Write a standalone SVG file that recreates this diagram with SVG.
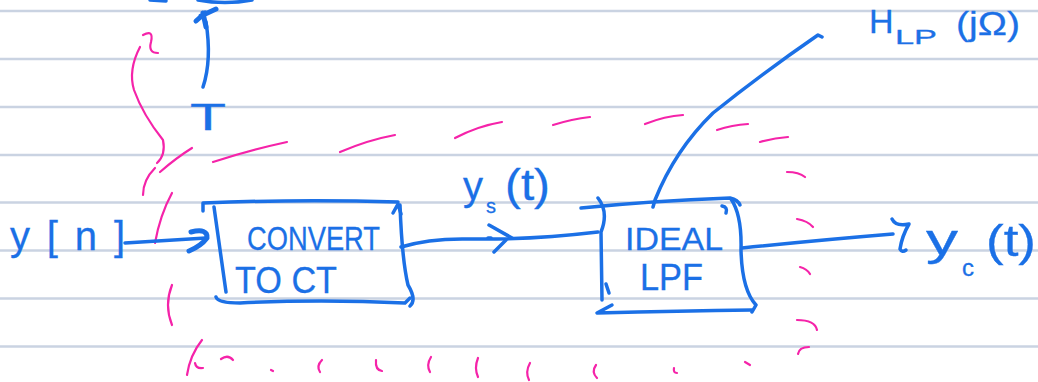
<svg xmlns="http://www.w3.org/2000/svg" width="1038" height="382" viewBox="0 0 1038 382">
  <style>
    .rule { stroke: #cad3e2; stroke-width: 2.5; }
    .ink { fill: none; stroke: #1b70e6; stroke-width: 3.5; stroke-linecap: round; stroke-linejoin: round; }
    .ink-thick { fill: none; stroke: #1b70e6; stroke-width: 5; stroke-linecap: round; stroke-linejoin: round; }
    .pen { fill: none; stroke: #f523a9; stroke-width: 2.2; stroke-linecap: round; stroke-linejoin: round; }
    .lbl { fill: #1b70e6; font-family: "Liberation Sans", "DejaVu Sans", sans-serif; stroke: #1b70e6; stroke-width: 0.3; }
  </style>

  <!-- ruled paper -->
  <rect width="1038" height="382" fill="#ffffff"/>
  <g id="paper-rules">
    <line class="rule" x1="0" y1="11" x2="1038" y2="11"/>
    <line class="rule" x1="0" y1="59" x2="1038" y2="59"/>
    <line class="rule" x1="0" y1="107" x2="1038" y2="107"/>
    <line class="rule" x1="0" y1="155" x2="1038" y2="155"/>
    <line class="rule" x1="0" y1="202.5" x2="1038" y2="202.5"/>
    <line class="rule" x1="0" y1="250.5" x2="1038" y2="250.5"/>
    <line class="rule" x1="0" y1="298.5" x2="1038" y2="298.5"/>
    <line class="rule" x1="0" y1="346.5" x2="1038" y2="346.5"/>
  </g>

  <!-- stroke from the previous line of notes -->
  <path class="ink" d="M198,0 Q225,5 252,0 M150,0 L166,1"/>

  <!-- dashed boundary around the system (pink pen) -->
  <g id="system-boundary">
    <path class="pen" d="M143,35 Q154,29 151,42 Q148,53 158,53"/>
    <path class="pen" stroke-width="1.6" d="M140,47 Q128,70 134,90 Q143,115 163,140 Q166,155 157,163"/>
    <path class="pen" d="M160,172 Q176,158 192,148"/>
    <path class="pen" d="M213,162 Q250,150 287,142"/>
    <path class="pen" d="M340,152 Q368,140 395,135"/>
    <path class="pen" d="M455,138 Q478,126 502,122"/>
    <path class="pen" d="M553,125 Q572,119 590,117"/>
    <path class="pen" d="M645,124 Q665,116 683,115"/>
    <path class="pen" d="M717,130 Q732,125 748,124"/>
    <path class="pen" d="M760,142 Q775,138 788,137"/>
    <path class="pen" d="M787,172 Q799,172 805,177"/>
    <path class="pen" d="M797,219 Q808,221 813,227"/>
    <path class="pen" d="M800,267 Q807,269 810,274"/>
    <path class="pen" d="M797,320 Q815,320 817,330"/>
    <path class="pen" d="M798,354 Q799,347 809,347"/>
    <path class="pen" d="M745,362 L750,365"/>
    <path class="pen" d="M674,368 Q673,373 677,373"/>
    <path class="pen" d="M596,365 Q591,372 597,378"/>
    <path class="pen" d="M530,363 Q525,372 529,380"/>
    <path class="pen" d="M478,358 Q474,368 478,377"/>
    <path class="pen" d="M431,357 Q426,365 430,372"/>
    <path class="pen" d="M376,360 Q375,370 382,371"/>
    <path class="pen" d="M322,360 Q316,366 320,372"/>
    <path class="pen" d="M271,370 L273,371"/>
    <path class="pen" d="M221,359 Q228,354 233,360"/>
    <path class="pen" d="M202,340 Q190,355 187,375 M195,363 Q196,369 203,368"/>
    <path class="pen" d="M172,285 Q164,305 172,325"/>
    <path class="pen" d="M172,193 Q160,215 155,243"/>
    <path class="pen" d="M155,168 Q143,180 143,195"/>
  </g>

  <!-- connectors -->
  <g id="connectors">
    <!-- x[n] into the converter -->
    <path class="ink" d="M125,243 Q160,241 206,238"/>
    <path class="ink-thick" d="M191,232 Q208,228 207,238 Q201,246 189,251"/>
    <!-- converter to LPF, carrying y_s(t) -->
    <path class="ink" d="M401,247 Q430,238 470,239 Q530,240 598,232"/>
    <path class="ink" d="M489,225 L512,238 M506,240 L494,252 M488,238 L491,238"/>
    <!-- LPF output -->
    <path class="ink" d="M742,248 Q820,240 893,234"/>
    <path class="ink" d="M892,219 Q896,227 909,224 Q902,236 900,249 Q902,253 906,250"/>
    <!-- pointer from H_LP label to the LPF -->
    <path class="ink" stroke-width="2.8" d="M653,207 L655,200 Q675,150 713,113 Q760,75 818,35 L822,37"/>
    <!-- sampling period arrow -->
    <path class="ink" d="M203,87 Q212,60 206,22"/>
    <path class="ink-thick" d="M196,21 L205,13 M201,16 L216,9 M203,13 L206,27"/>
  </g>

  <!-- input -->
  <g id="input">
    <text class="lbl" x="10" y="250" font-size="40" textLength="115" lengthAdjust="spacing">y[n]</text>
  </g>

  <!-- sampling period -->
  <g id="period">
    <text class="lbl" x="190" y="130" font-size="36" textLength="36" lengthAdjust="spacingAndGlyphs">T</text>
  </g>

  <!-- D/C converter block -->
  <g id="convert-to-ct">
    <path class="ink" d="M203,211 L203,203 Q300,199 398,202"/>
    <path class="ink" stroke-width="2.5" d="M393,213 L398,204 L401,214"/>
    <path class="ink" d="M214,207 Q220,250 226,292"/>
    <path class="ink" d="M400,205 Q402,260 408,285 Q417,300 410,306"/>
    <path class="ink" d="M216,297 Q218,303 240,303 Q320,299 405,303 L410,298"/>
    <text class="lbl" x="247" y="250" font-size="34" textLength="133" lengthAdjust="spacingAndGlyphs">CONVERT</text>
    <text class="lbl" x="235" y="293" font-size="36" textLength="102" lengthAdjust="spacingAndGlyphs">TO CT</text>
  </g>

  <!-- intermediate signal label -->
  <g id="ys-label">
    <text class="lbl" font-size="40"><tspan x="463" y="200">y</tspan><tspan x="486" y="213" font-size="20">s</tspan><tspan x="505" y="200" font-size="44" textLength="45" lengthAdjust="spacingAndGlyphs">(t)</tspan></text>
  </g>

  <!-- ideal lowpass filter block -->
  <g id="ideal-lpf">
    <path class="ink" d="M581,208 Q650,201 730,198 Q738,200 740,205"/>
    <path class="ink" d="M598,198 Q609,212 601,232 L602,300"/>
    <path class="ink" stroke-width="2" d="M606,284 L609,293"/>
    <path class="ink" d="M731,199 Q742,215 741,250 Q742,290 756,305 L752,312"/>
    <path class="ink" d="M612,305 L597,313 Q680,311 752,310"/>
    <path class="ink" stroke-width="2" d="M722,206 Q728,207 726,213"/>
    <text class="lbl" x="625" y="250" font-size="32" textLength="98" lengthAdjust="spacingAndGlyphs">IDEAL</text>
    <text class="lbl" x="640" y="290" font-size="36" textLength="63" lengthAdjust="spacingAndGlyphs">LPF</text>
  </g>

  <!-- output -->
  <g id="output">
    <text class="lbl" font-size="44"><tspan x="926" y="255" textLength="32" lengthAdjust="spacingAndGlyphs">y</tspan><tspan x="962" y="276" font-size="24">c</tspan><tspan x="986" y="256" textLength="50" lengthAdjust="spacingAndGlyphs">(t)</tspan></text>
  </g>

  <!-- frequency response label -->
  <g id="hlp-label">
    <text class="lbl" font-size="34"><tspan x="869" y="33">H</tspan><tspan x="895" y="44" font-size="20" textLength="42" lengthAdjust="spacingAndGlyphs">LP</tspan><tspan x="956" y="35" textLength="64" lengthAdjust="spacingAndGlyphs">(jΩ)</tspan></text>
  </g>
</svg>
